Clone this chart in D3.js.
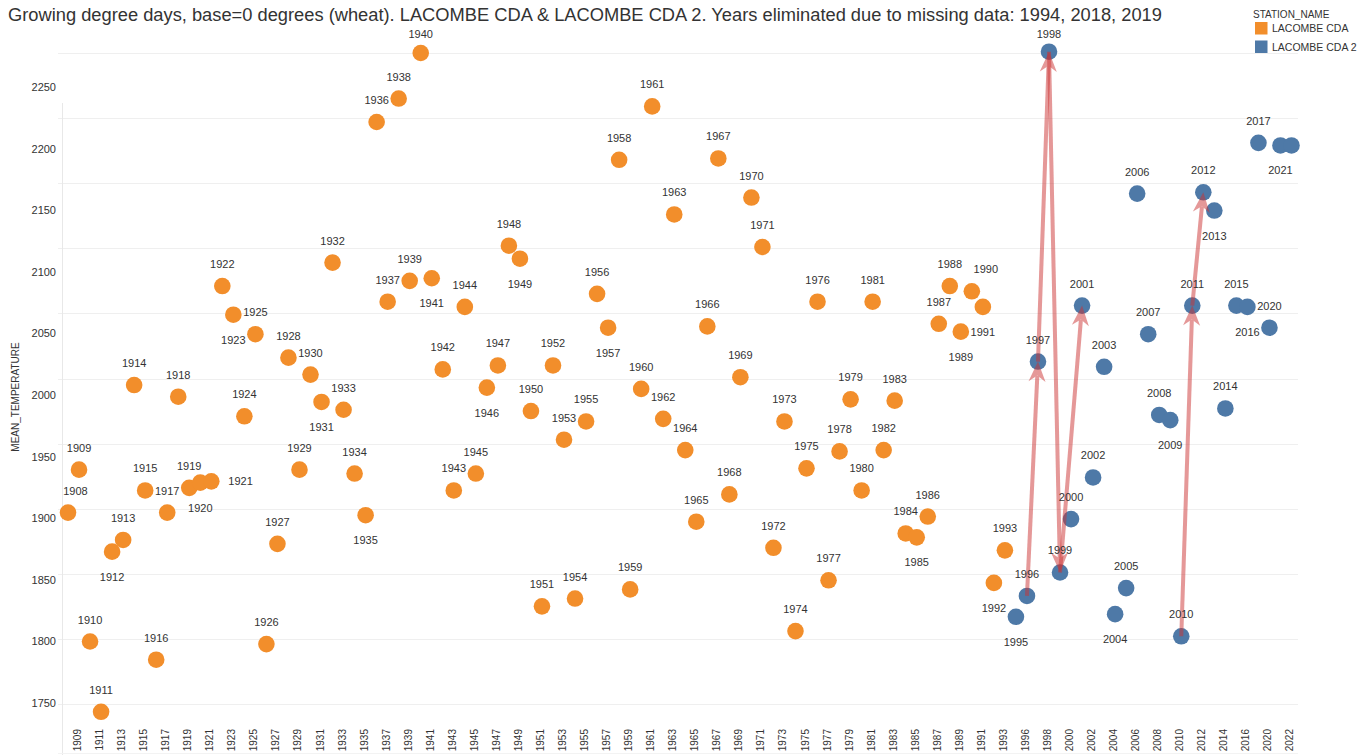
<!DOCTYPE html>
<html>
<head>
<meta charset="utf-8">
<script src="https://cdn.jsdelivr.net/npm/d3@7"></script>
<style>
	body { margin: 0; background: #ffffff; }
	svg { display: block; font-family: "Liberation Sans", Arial, sans-serif; }
</style>
</head>
<body>
<div id="div_id_main"></div>
<script>

// ---------------------------------------------------------------
// data

var vsStationName = ["LACOMBE CDA", "LACOMBE CDA 2"];

var vnYear_CDA = [1908, 1909, 1910, 1911, 1912, 1913, 1914, 1915, 1916, 1917,
				  1918, 1919, 1920, 1921, 1922, 1923, 1924, 1925, 1926, 1927,
				  1928, 1929, 1930, 1931, 1932, 1933, 1934, 1935, 1936, 1937,
				  1938, 1939, 1940, 1941, 1942, 1943, 1944, 1945, 1946, 1947,
				  1948, 1949, 1950, 1951, 1952, 1953, 1954, 1955, 1956, 1957,
				  1958, 1959, 1960, 1961, 1962, 1963, 1964, 1965, 1966, 1967,
				  1968, 1969, 1970, 1971, 1972, 1973, 1974, 1975, 1976, 1977,
				  1978, 1979, 1980, 1981, 1982, 1983, 1984, 1985, 1986, 1987,
				  1988, 1989, 1990, 1991, 1992, 1993];

var vnValue_CDA = [1897, 1930, 1798, 1744, 1867, 1876, 1995, 1914, 1784, 1897,
				   1986, 1916, 1920, 1921, 2071, 2049, 1971, 2034, 1796, 1873,
				   2016, 1930, 2003, 1982, 2089, 1976, 1927, 1895, 2197, 2059,
				   2215, 2075, 2250, 2077, 2007, 1914, 2055, 1927, 1993, 2010,
				   2102, 2092, 1975, 1825, 2010, 1953, 1831, 1967, 2065, 2039,
				   2168, 1838, 1992, 2209, 1969, 2126, 1945, 1890, 2040, 2169,
				   1911, 2001, 2139, 2101, 1870, 1967, 1806, 1931, 2059, 1845,
				   1944, 1984, 1914, 2059, 1945, 1983, 1881, 1878, 1894, 2042,
				   2071, 2036, 2067, 2055, 1843, 1868];

var vnYear_CDA2 = [1995, 1996, 1997, 1998, 1999, 2000, 2001, 2002, 2003, 2004,
				   2005, 2006, 2007, 2008, 2009, 2010, 2011, 2012, 2013, 2014,
				   2015, 2016, 2017, 2020, 2021, 2022];

var vnValue_CDA2 = [1817, 1833, 2013, 2251, 1851, 1892, 2056, 1924, 2009, 1819,
					1839, 2142, 2034, 1972, 1968, 1802, 2056, 2143, 2129, 1977,
					2056, 2055, 2181, 2039, 2179, 2179];

var vnTicks_Y = [1750, 1800, 1850, 1900, 1950, 2000, 2050, 2100, 2150, 2200, 2250];

// where the year label sits next to its mark (default: above)
var vnLabel_Below = [1912, 1920, 1923, 1931, 1935, 1941, 1946, 1949, 1957, 1985,
					 1989, 1991, 1992, 1995, 2004, 2009, 2013, 2016, 2021];
var vnLabel_Right = [1921];
var vnLabel_AboveRight = [1990];
var vnLabel_Hidden = [2022];

// annotation arrows, from year to year
var vArrows = [[1996, 1997], [1997, 1998], [1998, 1999], [1999, 2001],
			   [2010, 2011], [2011, 2012]];

// ---------------------------------------------------------------

var WIDTH = 1369;
var HEIGHT = 755;

var COLOR_TEXT = "#333333";
var COLOR_GRID = "#efefef";
var vcStationColor = ["#f28e2b", "#4e79a7"];

var PANE_LEFT = 62.5;
var PANE_RIGHT = 1297;

var fScale_X;
var fScale_Y;
var fScale_YLabel;

function funcDraw_Main() {

	let dsPoints = [];

	for (let i = 0; i < vnYear_CDA.length; i++)
		dsPoints.push({"year":vnYear_CDA[i], "value":vnValue_CDA[i], "station":0});

	for (let i = 0; i < vnYear_CDA2.length; i++)
		dsPoints.push({"year":vnYear_CDA2[i], "value":vnValue_CDA2[i], "station":1});

	// ---------------------------------------------------

	fScale_X = d3.scaleBand()
					.domain(dsPoints.map(function (d) { return d.year; }))
					.range([PANE_LEFT, PANE_RIGHT]);

	fScale_Y = d3.scaleLinear()
					.domain([1750, 2250])
					.range([704, 53]);

	// the axis labels are spaced a little tighter than the pane gridlines
	fScale_YLabel = d3.scaleLinear()
					.domain([1750, 2250])
					.range([703, 87]);

	// ---------------------------------------------------

	let svgMain = d3.select("#div_id_main")
					.append("svg")
						.attr("width", WIDTH)
						.attr("height", HEIGHT);

	funcDraw_Title(svgMain);
	funcDraw_Grid(svgMain);
	funcDraw_AxisY(svgMain);
	funcDraw_AxisX(svgMain);
	funcDraw_Points(svgMain, dsPoints);
	funcDraw_Arrows(svgMain, dsPoints);
	funcDraw_Labels(svgMain, dsPoints);
	funcDraw_Legend(svgMain);
}

function funcDraw_Title(svgMain) {

	svgMain.append("text")
				.attr("x", 8)
				.attr("y", 21)
				.attr("fill", COLOR_TEXT)
				.style("font-size", "18.3px")
				.text("Growing degree days, base=0 degrees (wheat). LACOMBE CDA & LACOMBE CDA 2. Years eliminated due to missing data: 1994, 2018, 2019");
}

function funcDraw_Grid(svgMain) {

	svgMain.append("g")
			.selectAll("line")
			.data(vnTicks_Y)
			.enter()
			.append("line")
				.attr("x1", 58)
				.attr("x2", PANE_RIGHT + 1)
				.attr("y1", function (d) { return Math.round(fScale_Y(d)) + 0.5; })
				.attr("y2", function (d) { return Math.round(fScale_Y(d)) + 0.5; })
				.attr("stroke", COLOR_GRID)
				.attr("stroke-width", 1);

	svgMain.append("line")
				.attr("x1", 62.5)
				.attr("x2", 62.5)
				.attr("y1", 103)
				.attr("y2", HEIGHT)
				.attr("stroke", "#e8e8e8");

	svgMain.append("line")
				.attr("x1", 58)
				.attr("x2", PANE_RIGHT + 1)
				.attr("y1", 753.5)
				.attr("y2", 753.5)
				.attr("stroke", "#f3f3f3");
}

function funcDraw_AxisY(svgMain) {

	let gAxis = svgMain.append("g")
					.attr("transform", "translate(56,0)")
					.call(d3.axisLeft(fScale_YLabel)
								.tickValues(vnTicks_Y)
								.tickSize(0)
								.tickPadding(0)
								.tickFormat(d3.format("d")));

	gAxis.select(".domain").remove();

	gAxis.selectAll("text")
			.attr("fill", COLOR_TEXT)
			.style("font-size", "11px")
			.style("font-family", "\"Liberation Sans\", Arial, sans-serif");

	svgMain.append("text")
				.attr("transform", "translate(19,397) rotate(-90)")
				.attr("text-anchor", "middle")
				.attr("fill", COLOR_TEXT)
				.style("font-size", "10px")
				.text("MEAN_TEMPERATURE");
}

function funcDraw_AxisX(svgMain) {

	let vnDomain = fScale_X.domain();
	let vnTickYears = vnDomain.filter(function (d, i) { return i % 2 == 1; });

	let gAxis = svgMain.append("g")
					.attr("transform", "translate(0,727)")
					.call(d3.axisBottom(fScale_X)
								.tickValues(vnTickYears)
								.tickSize(0)
								.tickPadding(0));

	gAxis.select(".domain").remove();

	gAxis.selectAll("text")
			.attr("fill", COLOR_TEXT)
			.attr("text-anchor", "end")
			.attr("transform", "translate(2,0) rotate(-90)")
			.attr("x", -2)
			.attr("y", 0)
			.attr("dy", 0)
			.style("font-size", "10px")
			.style("font-family", "\"Liberation Sans\", Arial, sans-serif");
}

function funcX(d) {
	return fScale_X(d.year) + fScale_X.bandwidth() / 2;
}

function funcDraw_Points(svgMain, dsPoints) {

	svgMain.append("g")
			.selectAll("circle")
			.data(dsPoints)
			.enter()
			.append("circle")
				.attr("cx", funcX)
				.attr("cy", function (d) { return fScale_Y(d.value); })
				.attr("r", 8.3)
				.attr("fill", function (d) { return vcStationColor[d.station]; });
}

function funcDraw_Arrows(svgMain, dsPoints) {

	let mapPoint = {};

	dsPoints.forEach(function (d) { mapPoint[d.year] = d; });

	let gArrows = svgMain.append("g");

	for (let i = 0; i < vArrows.length; i++) {

		let dFrom = mapPoint[vArrows[i][0]];
		let dTo = mapPoint[vArrows[i][1]];

		let x1 = funcX(dFrom), y1 = fScale_Y(dFrom.value);
		let x2 = funcX(dTo), y2 = fScale_Y(dTo.value);

		let fAngle = Math.atan2(y2 - y1, x2 - x1);
		let fLen = 20;
		let fHalf = 8.5;
		let fNotch = 14;

		let ux = Math.cos(fAngle), uy = Math.sin(fAngle);
		let px = -uy, py = ux;

		let bx = x2 - ux * fLen, by = y2 - uy * fLen;
		let nx = x2 - ux * fNotch, ny = y2 - uy * fNotch;

		let gOne = gArrows.append("g")
							.attr("opacity", 0.5);

		gOne.append("line")
				.attr("x1", x1)
				.attr("y1", y1)
				.attr("x2", nx)
				.attr("y2", ny)
				.attr("stroke", "#cc3333")
				.attr("stroke-width", 4);

		gOne.append("path")
				.attr("d", "M" + x2 + "," + y2 +
						   "L" + (bx + px * fHalf) + "," + (by + py * fHalf) +
						   "L" + nx + "," + ny +
						   "L" + (bx - px * fHalf) + "," + (by - py * fHalf) + "Z")
				.attr("fill", "#cc3333");
	}
}

function funcDraw_Labels(svgMain, dsPoints) {

	let dsShown = dsPoints.filter(function (d) { return vnLabel_Hidden.indexOf(d.year) < 0; });

	svgMain.append("g")
			.selectAll("text")
			.data(dsShown)
			.enter()
			.append("text")
				.attr("fill", COLOR_TEXT)
				.style("font-size", "11px")
				.attr("text-anchor", function (d) {
					return (vnLabel_Right.indexOf(d.year) >= 0) ? "start" : "middle";
				})
				.attr("x", function (d) {
					let x = funcX(d);
					if (vnLabel_Right.indexOf(d.year) >= 0)
						return x + 17;
					if (vnLabel_AboveRight.indexOf(d.year) >= 0)
						return x + 14;
					return Math.max(x, PANE_LEFT + 13);
				})
				.attr("y", function (d) {
					let y = fScale_Y(d.value);
					if (vnLabel_Below.indexOf(d.year) >= 0)
						return y + 29;
					if (vnLabel_Right.indexOf(d.year) >= 0)
						return y + 4;
					return Math.max(y - 18, 38);
				})
				.text(function (d) { return d.year; });
}

function funcDraw_Legend(svgMain) {

	let gLegend = svgMain.append("g")
						.attr("transform", "translate(1253,0)");

	gLegend.append("text")
				.attr("x", 0)
				.attr("y", 17.5)
				.attr("fill", COLOR_TEXT)
				.style("font-size", "10px")
				.text("STATION_NAME");

	for (let i = 0; i < vsStationName.length; i++) {

		gLegend.append("rect")
					.attr("x", 2)
					.attr("y", 22 + i * 18.5)
					.attr("width", 12.5)
					.attr("height", 12.5)
					.attr("fill", vcStationColor[i]);

		gLegend.append("text")
					.attr("x", 19)
					.attr("y", 32 + i * 18.5)
					.attr("fill", COLOR_TEXT)
					.style("font-size", "10.5px")
					.text(vsStationName[i]);
	}
}

funcDraw_Main();

</script>
</body>
</html>
